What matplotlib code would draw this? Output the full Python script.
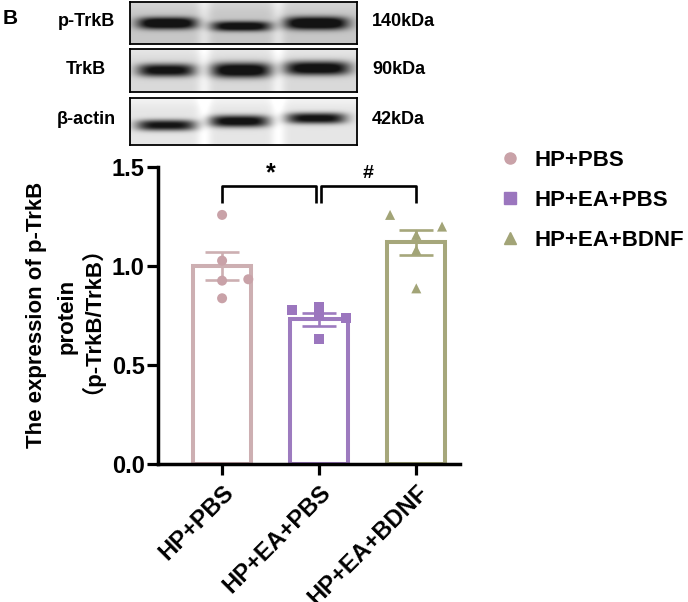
import numpy as np
import matplotlib
matplotlib.use("Agg")
import matplotlib.pyplot as plt
from matplotlib.lines import Line2D

# ---------------- data ----------------
groups = ["HP+PBS", "HP+EA+PBS", "HP+EA+BDNF"]
means = [1.0, 0.73, 1.12]
sems = [0.07, 0.035, 0.063]
points_hp_pbs = [1.258, 1.027, 0.926, 0.933, 0.837]
points_hp_ea_pbs = [0.778, 0.794, 0.752, 0.739, 0.631]
points_hp_ea_bdnf = [1.258, 1.199, 1.157, 1.081, 0.887]
jitter_hp_pbs = [0.0, 0.0, 0.0, 0.27, 0.0]
jitter_hp_ea_pbs = [-0.28, 0.0, 0.0, 0.28, 0.0]
jitter_hp_ea_bdnf = [-0.27, 0.265, 0.0, 0.0, 0.0]
yticks = [0.0, 0.5, 1.0, 1.5]
sig_labels = ["*", "#"]

blot_labels = ["p-TrkB", "TrkB", "β-actin"]
blot_sizes = ["140kDa", "90kDa", "42kDa"]
# relative band darkness per lane (lane1, lane2, lane3)
band_ptrkb = [0.92, 0.85, 0.95]
band_trkb = [0.85, 0.95, 0.92]
band_actin = [0.85, 0.92, 0.88]

# ---------------- style ----------------
edge_colors = ["#CDAFB2", "#9D7BBF", "#A6A77B"]
pt_colors = ["#C9A2A8", "#9B76BE", "#A2A477"]
markers = ["o", "s", "^"]
FONT = "Liberation Sans"

W, H = 688, 602
fig = plt.figure(figsize=(W / 100, H / 100), dpi=100)


def rect(x0, y0, x1, y1):
    return [x0 / W, 1 - y1 / H, (x1 - x0) / W, (y1 - y0) / H]


# ---------------- western blot panels ----------------
boxes = [(130, 2, 357, 44), (130, 49, 357, 92), (130, 98, 357, 145)]
geo = [
    # (xc, half-width, yc, thickness) for each lane
    [(167, 30, 23, 12), (241, 30, 26, 10), (316, 32, 23, 13)],
    [(166, 29, 70, 13), (241, 30, 70, 15), (317, 33, 68, 14)],
    [(166, 30, 125, 11), (239, 30, 121, 12), (316, 30, 118, 11)],
]
bg_levels = [0.78, 0.85, 0.90]
intens = [band_ptrkb, band_trkb, band_actin]
gaps = [204, 278]

for box, g, bgl, it in zip(boxes, geo, bg_levels, intens):
    x0, y0, x1, y1 = box
    bax = fig.add_axes(rect(x0, y0, x1, y1))
    xs = np.arange(x0, x1, 0.5)
    ys = np.arange(y0, y1, 0.5)
    X, Y = np.meshgrid(xs, ys)
    img = np.full(X.shape, bgl)
    for gx in gaps:
        img += 0.10 * np.exp(-((X - gx) / 7.0) ** 2)
    img += 0.05 * np.exp(-((Y - y0) / 8.0) ** 2)
    for (xc, hw, yc, th), a in zip(g, it):
        prof_x = np.exp(-np.abs((X - xc) / hw) ** 4)
        prof_y = np.exp(-np.abs((Y - yc) / (th / 2.0)) ** 2.5)
        img -= a * prof_x * prof_y
    img = np.clip(img, 0.08, 1)
    bax.imshow(img, cmap="gray", vmin=0, vmax=1, extent=(x0, x1, y1, y0),
               aspect="auto", interpolation="bilinear")
    bax.set_xticks([])
    bax.set_yticks([])
    for s in bax.spines.values():
        s.set_linewidth(1.3)
        s.set_color("black")

label_y = [22, 70, 120]
for lab, sz, yy in zip(blot_labels, blot_sizes, label_y):
    fig.text(86 / W, 1 - yy / H, lab, ha="center", va="center",
             fontsize=13, fontweight="bold", family=FONT)
    fig.text(372 / W, 1 - yy / H, sz, ha="left", va="center",
             fontsize=13, fontweight="bold", family=FONT)
fig.text(3 / W, 1 - 18 / H, "B", ha="left", va="center",
         fontsize=15, fontweight="bold", family=FONT)

# ---------------- bar chart ----------------
ax = fig.add_axes(rect(158, 167, 460, 464))
xpos = np.arange(len(groups))
ax.bar(xpos, means, width=0.6, color="white", edgecolor=edge_colors,
       linewidth=2.9, zorder=2)
for i in range(3):
    ax.errorbar(xpos[i], means[i], yerr=sems[i], color=edge_colors[i],
                capsize=12.5, elinewidth=1.9, capthick=1.9, zorder=3)

pts = [points_hp_pbs, points_hp_ea_pbs, points_hp_ea_bdnf]
jit = [jitter_hp_pbs, jitter_hp_ea_pbs, jitter_hp_ea_bdnf]
for i in range(3):
    ax.scatter(xpos[i] + np.array(jit[i]), pts[i], marker=markers[i],
               s=52, color=pt_colors[i], edgecolors="none", zorder=4,
               clip_on=False)

ax.set_xlim(-0.66, 2.45)
ax.set_ylim(0, 1.5)
ax.set_yticks(yticks)
ax.set_yticklabels([f"{v:.1f}" for v in yticks])
ax.set_xticks(xpos)
ax.set_xticklabels(groups, rotation=45, ha="right", rotation_mode="anchor")
for lab in ax.get_xticklabels() + ax.get_yticklabels():
    lab.set_fontsize(17)
    lab.set_fontweight("bold")
    lab.set_family(FONT)
ax.tick_params(axis="both", length=8, width=2.3, pad=1.5)
ax.tick_params(axis="x", pad=4)
for s in ["top", "right"]:
    ax.spines[s].set_visible(False)
for s in ["left", "bottom"]:
    ax.spines[s].set_linewidth(2.5)

# significance brackets
yb, yd = 1.405, 1.32
ax.plot([0, 0, 0.97, 0.97], [yd, yb, yb, yd], color="black", lw=1.9,
        clip_on=False, solid_capstyle="butt")
ax.plot([1.015, 1.015, 2, 2], [yd, yb, yb, yd], color="black", lw=1.9,
        clip_on=False, solid_capstyle="butt")
ax.text(0.5, 1.41, sig_labels[0], ha="center", va="bottom", fontsize=18,
        fontweight="bold", family=FONT)
ax.text(1.5, 1.425, sig_labels[1], ha="center", va="bottom", fontsize=14,
        fontweight="bold", family=FONT)

# y label (three lines)
fam = [FONT, "Noto Sans CJK SC"]
fig.text(37 / W, 1 - 315 / H, "The expression of p-TrkB", rotation=90,
         ha="center", va="center", fontsize=16, fontweight="bold", family=fam)
fig.text(67 / W, 1 - 316 / H, "protein", rotation=90,
         ha="center", va="center", fontsize=16, fontweight="bold", family=fam)
fig.text(80 / W, 1 - 309 / H, "（p-TrkB/TrkB）", rotation=90,
         ha="center", va="center", fontsize=16, fontweight="bold", family=fam)

# legend
handles = [Line2D([], [], marker=m, color=c, linestyle="none", markersize=8)
           for m, c in zip(markers, pt_colors)]
leg = fig.legend(handles, groups, loc="upper left",
                 bbox_to_anchor=(499 / W, 1 - 150 / H), frameon=False,
                 handlelength=1.0, handletextpad=0.6, labelspacing=0.86,
                 borderpad=0, borderaxespad=0,
                 prop={"family": FONT, "weight": "bold", "size": 16})

fig.savefig("out.png", dpi=100)
